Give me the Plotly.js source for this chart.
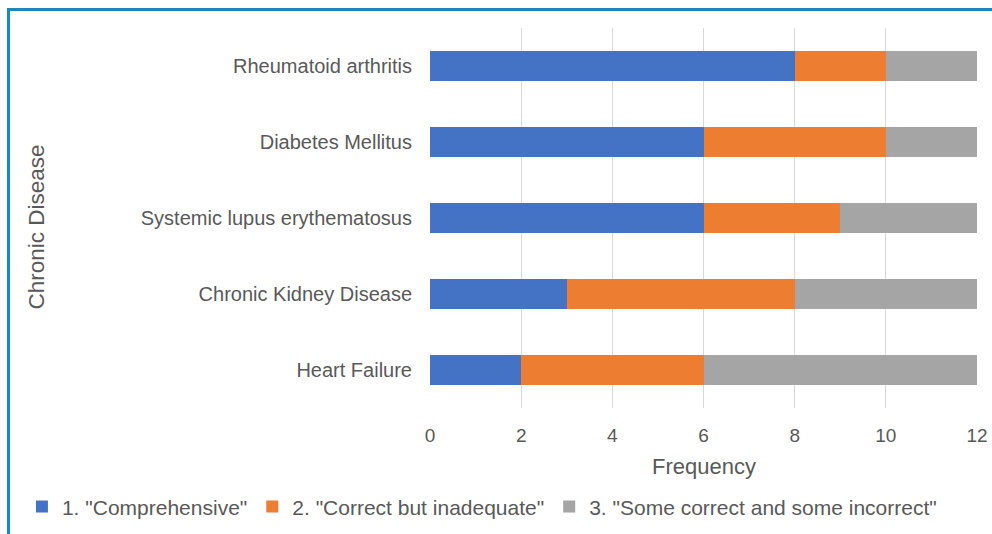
<!DOCTYPE html>
<html>
<head>
<meta charset="utf-8">
<script src="https://cdn.plot.ly/plotly-3.0.1.min.js"></script>
<style>
  html, body { margin: 0; padding: 0; background: #fff; }
  #wrap { position: relative; width: 992px; height: 534px; overflow: hidden; }
  #chart { position: absolute; left: 0; top: 0; width: 992px; height: 534px; }
  #frame { position: absolute; left: 7px; top: 8px; width: 1000px; height: 600px;
           border-top: 3px solid #1a87c1; border-left: 3px solid #1a87c1; pointer-events: none; }
</style>
</head>
<body>
<div id="wrap"><div id="chart"></div><div id="frame"></div></div>
<script>
const categories = ["Heart Failure", "Chronic Kidney Disease", "Systemic lupus erythematosus", "Diabetes Mellitus", "Rheumatoid arthritis"];
const comprehensive = [2, 3, 6, 6, 8];
const correctInadequate = [4, 5, 3, 4, 2];
const someCorrect = [6, 4, 3, 2, 2];
const seriesNames = ['1. "Comprehensive"', '2. "Correct but inadequate"', '3. "Some correct and some incorrect"'];
const xTicks = [0, 2, 4, 6, 8, 10, 12];

const colors = ["#4472C4", "#ED7D31", "#A5A5A5"];
const series = [comprehensive, correctInadequate, someCorrect];
const font = "Liberation Sans, Arial, sans-serif";
const textColor = "#595959";

const traces = series.map((vals, i) => ({
  type: "bar",
  orientation: "h",
  name: seriesNames[i],
  y: categories,
  x: vals,
  marker: { color: colors[i], line: { width: 0 } },
  hoverinfo: "x+y+name"
}));

const layout = {
  width: 992, height: 534,
  paper_bgcolor: "#fff", plot_bgcolor: "#fff",
  barmode: "stack",
  bargap: 0.6,
  margin: { l: 430, r: 15, t: 28, b: 126, autoexpand: false },
  font: { family: font, color: textColor, size: 17 },
  xaxis: {
    range: [0, 12],
    tickvals: xTicks,
    ticktext: xTicks.map(String),
    showgrid: true, gridcolor: "#D9D9D9", gridwidth: 1.3,
    zeroline: false, showline: false, ticks: "",
    ticklabelstandoff: 14,
    tickfont: { size: 19, color: textColor, family: font },
    fixedrange: true
  },
  yaxis: {
    type: "category",
    categoryorder: "array", categoryarray: categories,
    showgrid: false, zeroline: false, showline: false, ticks: "",
    ticklabelstandoff: 17,
    tickfont: { size: 20, color: textColor, family: font },
    fixedrange: true
  },
  showlegend: true,
  legend: {
    orientation: "h",
    x: -0.746, xanchor: "left",
    y: -0.26, yanchor: "middle",
    font: { size: 21, color: textColor, family: font },
    itemwidth: 30,
    tracegroupgap: 0,
    traceorder: "normal"
  },
  annotations: [
    { text: "Frequency", xref: "paper", yref: "paper", x: 0.5, y: -0.155, xanchor: "center", yanchor: "middle",
      showarrow: false, font: { size: 22, color: textColor, family: font } },
    { text: "Chronic Disease", xref: "paper", yref: "paper", x: (36 - 430) / 547, y: 0.475, xanchor: "center", yanchor: "middle",
      textangle: -90, showarrow: false, font: { size: 22.5, color: textColor, family: font } }
  ]
};

Plotly.newPlot("chart", traces, layout, { displayModeBar: false, staticPlot: true });
</script>
</body>
</html>
